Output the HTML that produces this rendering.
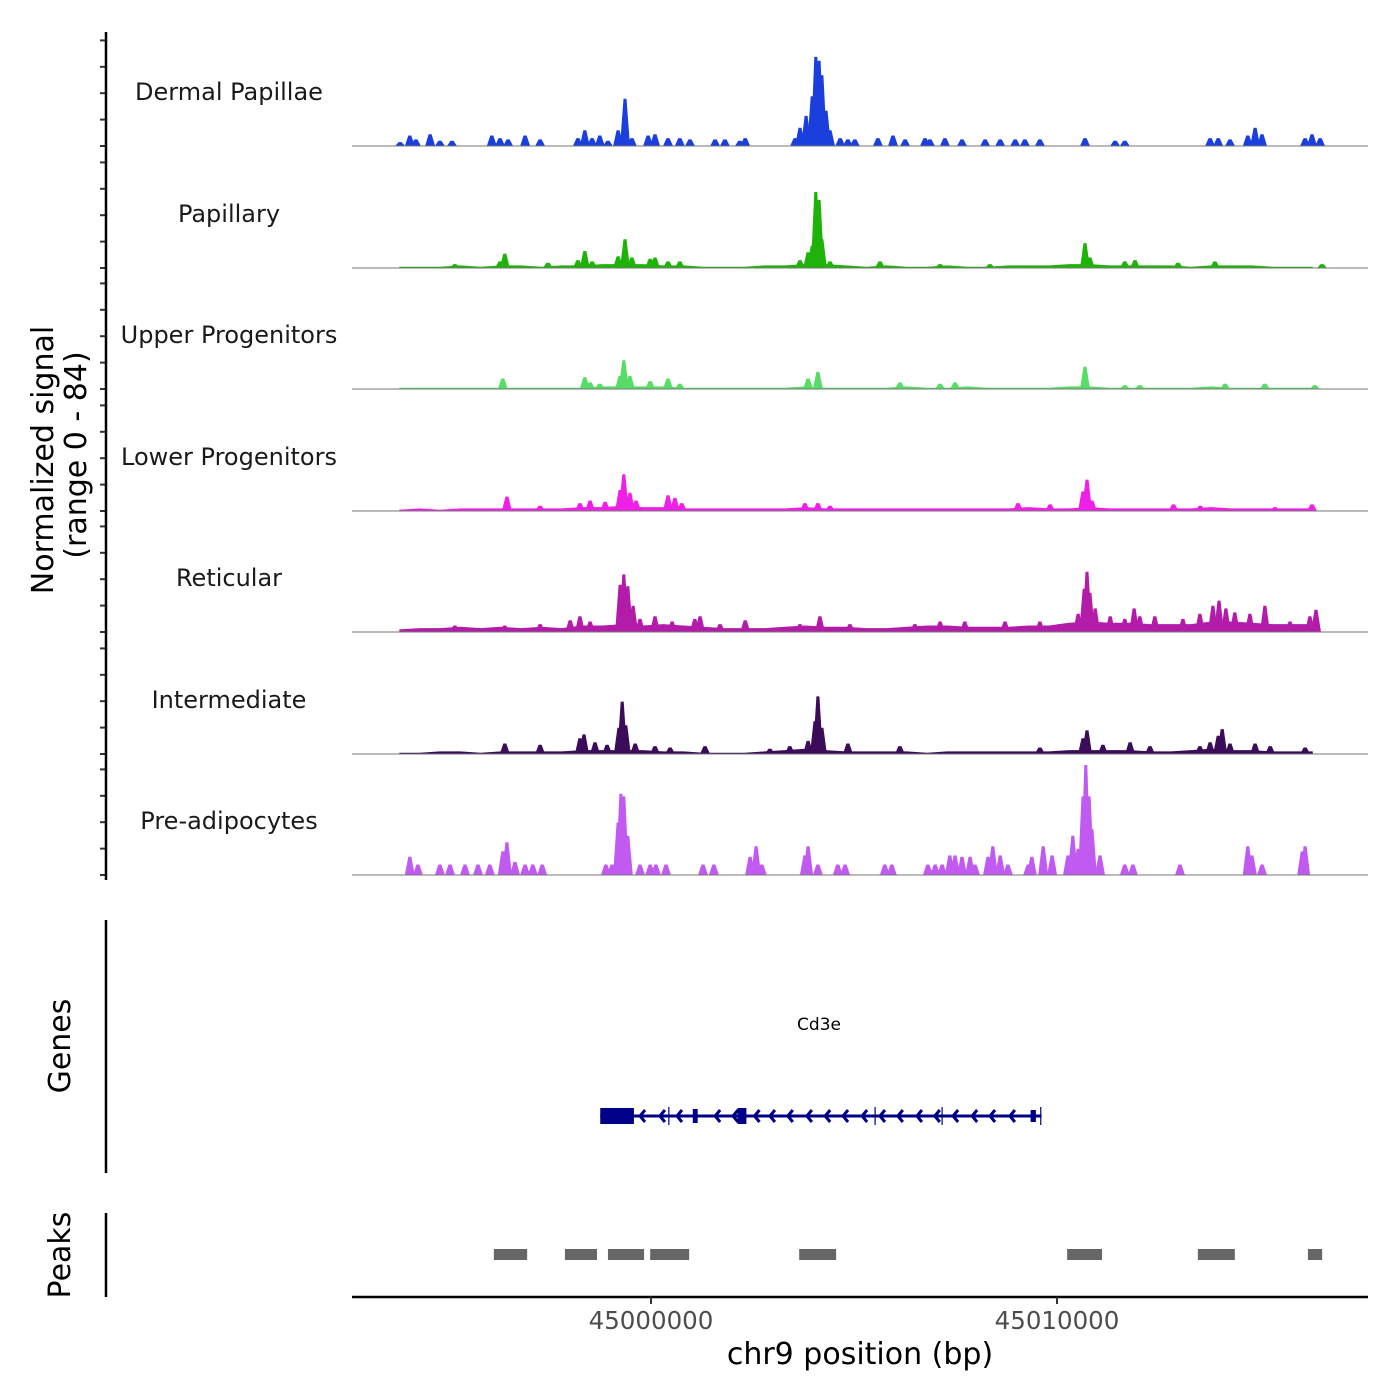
<!DOCTYPE html>
<html><head><meta charset="utf-8"><style>
body{margin:0;background:#fff;}
svg{display:block;font-family:"DejaVu Sans","Liberation Sans",sans-serif;}
</style></head><body>
<svg id="chart" width="1400" height="1400" viewBox="0 0 1400 1400" xmlns="http://www.w3.org/2000/svg">
<rect width="1400" height="1400" fill="#fff"/>
<g id="tracks"></g>
<g id="axes"></g>
</svg>
<script>
// x domain in kb relative to 45000000
const bgPos=[-6.2,-5.7,-5.2,-4.7,-4.2,-3.7,-3.2,-2.7,-2.2,-1.7,-1.2,-0.7,-0.2,0.3,0.8,1.3,1.8,2.3,2.8,3.3,3.8,4.3,4.8,5.3,5.8,6.3,6.8,7.3,7.8,8.3,8.8,9.3,9.8,10.3,10.8,11.3,11.8,12.3,12.8,13.3,13.8,14.3,14.8,15.3,15.8,16.3];
const trackNames=["Dermal Papillae","Papillary","Upper Progenitors","Lower Progenitors","Reticular","Intermediate","Pre-adipocytes"];
const trackColors=["#1a3fdc","#1fb30a","#55dd66","#f01fe8","#b21ca8","#3a0c5a","#c15af0"];
const bgDermal=null;
const bgPapillary=[1,1,1,2,1,2,2,1,2,2,3,3,3,2,2,1,1,1,2,2,3,3,2,1,2,1,1,2,1,1,2,2,2,3,3,2,2,2,2,1,2,2,2,1,1,1];
const bgUpper=[1,1,1,1,1,1,1,1,1,1,2,2,2,2,1,1,1,1,1,1,2,1,1,1,1,2,1,1,2,1,1,1,1,2,2,1,1,1,1,1,2,1,1,1,1,1];
const bgLower=[1,2,1,2,2,2,2,2,2,3,3,4,3,3,2,2,2,2,2,2,3,2,2,2,2,2,2,2,2,2,2,3,2,2,3,2,2,2,2,2,3,2,2,2,2,2];
const bgReticular=[2,3,3,4,3,4,3,4,3,5,5,6,5,6,5,4,3,3,3,4,5,4,4,3,3,4,5,5,4,4,4,5,5,7,8,7,7,6,6,6,8,8,7,6,6,6];
const bgIntermediate=[1,1,2,2,1,2,2,2,2,3,3,3,3,2,2,1,1,1,2,3,4,3,2,2,2,2,1,2,2,2,2,2,2,3,3,3,3,2,2,3,4,3,3,2,2,2];
const bgPre=null;
const pkDermalPos=[-6.18,-5.94,-5.79,-5.44,-5.20,-4.90,-3.92,-3.72,-3.52,-3.10,-2.73,-1.80,-1.63,-1.45,-1.26,-1.06,-0.81,-0.64,-0.47,-0.07,0.10,0.42,0.71,0.96,1.58,1.82,2.19,2.32,3.55,3.67,3.82,3.97,4.06,4.14,4.21,4.31,4.41,4.66,4.85,5.02,5.59,5.96,6.26,6.75,6.87,7.24,7.66,8.23,8.60,8.97,9.21,9.58,10.69,11.43,11.67,13.77,13.97,14.26,14.70,14.88,15.05,16.11,16.28,16.48];
const pkDermalVal=[3,8,5,9,4,4,8,6,5,8,5,6,12,6,8,4,12,36,6,8,9,6,6,5,5,5,4,6,6,14,23,38,68,65,54,27,12,6,5,5,6,8,5,6,5,6,5,5,5,5,5,5,6,4,4,6,6,5,8,14,9,6,9,6];
const pkPapPos=[-4.83,-3.72,-3.60,-2.54,-1.80,-1.63,-1.45,-0.81,-0.64,-0.47,-0.02,0.10,0.42,0.71,3.67,3.87,3.97,4.06,4.14,4.21,4.41,5.64,7.12,8.35,10.69,10.81,11.67,11.92,12.98,13.89,16.53];
const pkPapVal=[3,5,11,4,6,13,5,9,22,8,7,8,5,5,6,12,17,58,52,22,5,5,3,3,19,8,5,6,4,5,3];
const pkUpPos=[-3.65,-1.63,-1.50,-1.26,-0.76,-0.67,-0.52,-0.02,0.42,0.71,3.87,4.11,6.13,7.12,7.49,10.69,11.67,12.04,14.14,15.12,16.35];
const pkUpVal=[8,9,5,4,10,22,10,6,8,4,8,13,5,4,5,17,3,3,4,4,3];
const pkLowPos=[-3.55,-2.73,-1.75,-1.50,-1.13,-0.76,-0.67,-0.52,-0.37,0.42,0.59,0.76,3.79,4.11,4.41,9.04,9.83,10.64,10.74,10.86,12.87,13.53,15.37,16.28];
const pkLowVal=[11,4,6,8,7,16,28,14,8,12,10,6,6,6,4,6,5,15,24,8,5,4,3,5];
const pkRetPos=[-4.83,-3.60,-2.73,-1.99,-1.75,-1.50,-0.76,-0.67,-0.57,-0.44,-0.27,0.10,0.52,1.08,1.21,1.70,2.32,3.67,4.16,4.90,6.50,7.12,7.73,8.72,9.58,10.07,10.52,10.67,10.74,10.81,10.94,11.31,11.67,11.90,12.04,12.41,13.10,13.52,13.84,13.99,14.16,14.38,14.75,15.12,15.74,16.23,16.38];
const pkRetVal=[5,5,6,9,12,8,36,44,35,20,10,12,8,10,12,6,9,6,12,6,6,8,8,8,8,6,14,33,46,30,18,12,10,18,12,12,10,14,20,24,18,15,14,20,8,12,17];
const pkIntPos=[-3.60,-2.73,-1.75,-1.65,-1.38,-1.08,-0.79,-0.71,-0.62,-0.39,0.10,0.47,1.33,2.93,3.42,3.87,4.04,4.11,4.21,4.85,6.13,9.58,10.64,10.74,11.13,11.80,12.29,13.52,13.77,13.97,14.07,14.26,14.88,15.25,16.11];
const pkIntVal=[8,7,12,15,9,7,20,40,22,8,6,5,6,4,6,10,25,44,20,8,6,5,12,18,7,9,6,6,9,14,19,8,8,6,5];
const pkPrePos=[-5.94,-5.74,-5.20,-4.95,-4.58,-4.26,-3.97,-3.65,-3.55,-3.35,-3.10,-2.91,-2.68,-1.11,-0.96,-0.81,-0.74,-0.67,-0.57,-0.27,-0.02,0.12,0.37,1.28,1.55,2.44,2.59,2.73,3.79,3.87,4.11,4.60,4.78,5.76,5.93,6.82,7.00,7.17,7.36,7.49,7.66,7.86,7.98,8.30,8.42,8.60,8.79,9.29,9.38,9.66,9.88,10.27,10.39,10.52,10.64,10.71,10.79,10.86,11.06,11.67,11.87,13.03,14.70,14.80,15.05,16.04,16.11];
const pkPreVal=[14,8,8,8,8,8,8,18,25,10,8,8,8,8,8,40,62,60,30,8,8,8,8,8,8,14,22,8,15,22,8,8,8,8,8,8,8,8,15,15,14,14,8,14,22,15,8,8,14,22,15,15,30,20,60,84,60,35,15,8,8,8,22,15,8,18,22];
const bgSeries=[bgDermal,bgPapillary,bgUpper,bgLower,bgReticular,bgIntermediate,bgPre];
const pkPosSeries=[pkDermalPos,pkPapPos,pkUpPos,pkLowPos,pkRetPos,pkIntPos,pkPrePos];
const pkValSeries=[pkDermalVal,pkPapVal,pkUpVal,pkLowVal,pkRetVal,pkIntVal,pkPreVal];
// genes / peaks
const exonStart=[-1.25,1.03,2.13,9.35];
const exonEnd=[-0.42,1.15,2.35,9.48];
const exonH=[16,14,16,12];
const intronMarks=[0.44,5.52,7.17,9.60];
const chevronPos=[-0.27,0.22,0.64,1.58,2.02,2.55,2.93,3.37,3.84,4.29,4.73,5.20,5.64,6.08,6.55,6.99,7.44,7.91,8.35,8.84];
const geneStart=-1.25, geneEnd=9.62;
const peakStart=[-3.87,-2.12,-1.06,-0.02,3.65,10.25,13.47,16.18];
const peakEnd=[-3.05,-1.33,-0.17,0.94,4.56,11.11,14.38,16.53];
const xTicks=[0,10];
const xTickLabels=["45000000","45010000"];

const NS="http://www.w3.org/2000/svg";
const X0=352,X1=1368,KB0=-7.364,KB1=17.66;
function xs(kb){return X0+(kb-KB0)/(KB1-KB0)*(X1-X0);}
const PXU=1.31;
const bases=[146,268,389,511,632,754,875];
function mk(tag,attrs,parent){const e=document.createElementNS(NS,tag);for(const k in attrs)e.setAttribute(k,attrs[k]);parent.appendChild(e);return e;}
const T=document.getElementById('tracks'),A=document.getElementById('axes');
for(let t=0;t<7;t++){
  const g=mk('g',{},T);
  
  
  const b=bases[t],col=trackColors[t];
  const bg=bgSeries[t];
  if(bg){
    let d='M'+xs(bgPos[0]).toFixed(1)+','+b;
    for(let i=0;i<bgPos.length;i++)d+=' L'+xs(bgPos[i]).toFixed(1)+','+(b-bg[i]*PXU).toFixed(1);
    d+=' L'+xs(bgPos[bgPos.length-1]).toFixed(1)+','+b+'Z';
    const p=mk('path',{d:d,fill:col},g);
    
    
  }
  const P=pkPosSeries[t],V=pkValSeries[t];
  for(let i=0;i<P.length;i++){
    const c=xs(P[i]),h=V[i]*PXU,w=5,tw=1.5;
    const p=mk('path',{d:`M${(c-w).toFixed(1)},${b} L${(c-tw).toFixed(1)},${(b-h).toFixed(1)} L${(c+tw).toFixed(1)},${(b-h).toFixed(1)} L${(c+w).toFixed(1)},${b}Z`,fill:col},g);
    
    
  }
  const bl=mk('line',{x1:X0,x2:X1,y1:b,y2:b,stroke:'#777','stroke-width':1},g);
  
  
  const lab=mk('text',{x:229,y:b-46,'text-anchor':'middle','font-size':24,fill:'#1a1a1a'},g);
  lab.textContent=trackNames[t];
  
  
  for(let k=0;k<5;k++){
    const y=b-k*26.4;
    const tk=mk('line',{x1:100,x2:106,y1:y,y2:y,stroke:'#333','stroke-width':2},A);
    
    
  }
}
// y axes
[[32,880,'signal-y-axis'],[920,1173,'genes-axis'],[1213,1297,'peaks-axis']].forEach(a=>{
  const l=mk('line',{x1:106,x2:106,y1:a[0],y2:a[1],stroke:'#000','stroke-width':2.5},A);
  
  
});
function rtext(x,y,s,size,name){const e=mk('text',{x:0,y:0,transform:`translate(${x},${y}) rotate(-90)`,'text-anchor':'middle','font-size':size,fill:'#000'},A);e.textContent=s;}
rtext(53,460,'Normalized signal',30,'y-axis-title');
rtext(86,455,'(range 0 - 84)',30,'y-axis-range');
rtext(70,1046,'Genes',30,'genes-title');
rtext(70,1255,'Peaks',30,'peaks-title');
// gene
const G=mk('g',{},A);


const gl=mk('line',{x1:xs(geneStart),x2:xs(geneEnd),y1:1116,y2:1116,stroke:'#000088','stroke-width':3},G);


for(let i=0;i<exonStart.length;i++){
  const r=mk('rect',{x:xs(exonStart[i]),y:1116-exonH[i]/2,width:xs(exonEnd[i])-xs(exonStart[i]),height:exonH[i],fill:'#000088'},G);
  
  
}
for(const m of intronMarks){
  const l=mk('line',{x1:xs(m),x2:xs(m),y1:1107,y2:1125,stroke:'#000088','stroke-width':1.2},G);
  
  
}
for(const c of chevronPos){
  const x=xs(c);
  const p=mk('path',{d:`M${x+5},${1110} L${x},${1116} L${x+5},${1122}`,stroke:'#000088','stroke-width':3,fill:'none'},G);
  
  
}
const gt=mk('text',{x:819,y:1030,'text-anchor':'middle','font-size':17,fill:'#000'},G);
gt.textContent='Cd3e';


// peaks
for(let i=0;i<peakStart.length;i++){
  const r=mk('rect',{x:xs(peakStart[i]),y:1249,width:xs(peakEnd[i])-xs(peakStart[i]),height:11,fill:'#666'},A);
  
  
}
// x axis
const xa=mk('line',{x1:X0,x2:X1,y1:1297,y2:1297,stroke:'#000','stroke-width':2.5},A);


for(let i=0;i<xTicks.length;i++){
  const x=xs(xTicks[i]);
  const l=mk('line',{x1:x,x2:x,y1:1297,y2:1304,stroke:'#333','stroke-width':2},A);
  
  
  const t=mk('text',{x:x,y:1329,'text-anchor':'middle','font-size':24.5,fill:'#4d4d4d'},A);
  t.textContent=xTickLabels[i];
  
  
}
const xt=mk('text',{x:860,y:1364,'text-anchor':'middle','font-size':30,fill:'#000'},A);
xt.textContent='chr9 position (bp)';


</script>
</body></html>
